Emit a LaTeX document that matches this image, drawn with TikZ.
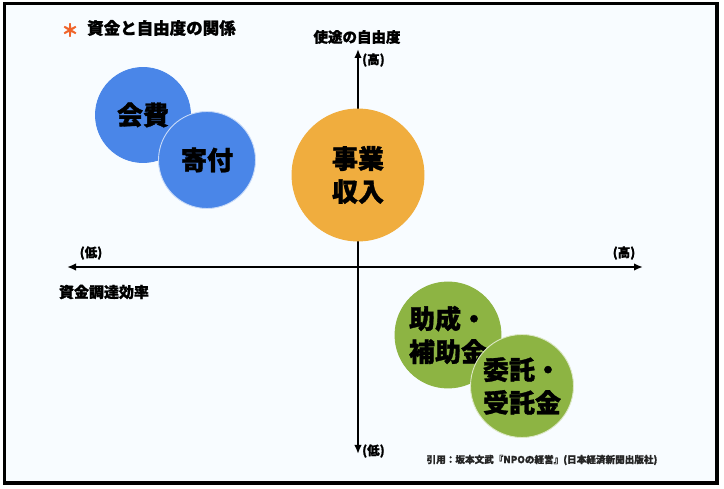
\documentclass[tikz,border=0pt]{standalone}
\usepackage{fontspec}
\setmainfont{Noto Sans CJK JP}[BoldFeatures={FakeBold=1.2}]
\usetikzlibrary{arrows.meta}
\definecolor{bgc}{HTML}{F8FCFF}
\definecolor{cblue}{HTML}{4A86E8}
\definecolor{corange}{HTML}{F0AD3E}
\definecolor{cgreen}{HTML}{8DB443}
\definecolor{cstar}{HTML}{F0642A}
\tikzset{
  bubble/.style={circle, inner sep=0pt, font=\fontsize{26}{33}\selectfont\bfseries, align=center, text=black, line width=0.9pt},
  axis/.style={line width=1.8pt, -{Latex[length=9pt,width=7.5pt]}},
  lbl/.style={inner sep=0pt, font=\fontsize{14.5}{16}\selectfont\bfseries},
  small/.style={inner sep=0pt, font=\fontsize{12.5}{14}\selectfont\bfseries},
}
\begin{document}
\begin{tikzpicture}[x=1pt,y=-1pt]
\useasboundingbox (0,0) rectangle (724,489);
\fill[white] (0,0) rectangle (724,489);
\draw[line width=3.6pt, fill=bgc] (4.5,3.5) rectangle (717,483);
% title
\node[lbl, text=cstar, font=\fontsize{17}{18}\selectfont\bfseries] (star) at (70,30) {＊};
\node[lbl, anchor=west, font=\fontsize{16.5}{18}\selectfont\bfseries] (title) at (87,28) {資金と自由度の関係};
% axes
\coordinate (vtop) at (358,49);
\coordinate (vbot) at (358,454);
\coordinate (hleft) at (67,267);
\coordinate (hright) at (643,267);
\coordinate (vmid) at (358,267);
\draw[axis] (vmid) -- (vtop);
\draw[axis] (vmid) -- (vbot);
\draw[axis] (vmid) -- (hleft);
\draw[axis] (vmid) -- (hright);
\node[lbl] (vlabel) at (357,37) {使途の自由度};
\node[small, anchor=west] (vhigh) at (362,60) {(高)};
\node[small, anchor=west] (vlow) at (362,451) {(低)};
\node[small] (hlow) at (91,253) {(低)};
\node[small] (hhigh) at (624,253) {(高)};
\node[lbl, font=\fontsize{15}{16}\selectfont\bfseries] (hlabel) at (104,292) {資金調達効率};
% bubbles
\node[bubble, fill=cblue, draw=cblue, minimum size=95pt] (kaihi) at (143,115) {会費};
\node[bubble, fill=cblue, draw=white!70!cblue, minimum size=97pt] (kifu) at (207,160) {寄付};
\node[bubble, fill=corange, draw=corange, minimum size=132pt] (jigyo) at (358,175) {事業\\収入};
\node[bubble, fill=cgreen, draw=cgreen, minimum size=106pt] (josei) at (448,335) {助成・\\補助金};
\node[bubble, fill=cgreen, draw=white!70!cgreen, minimum size=103pt] (itaku) at (522,386) {委託・\\受託金};
% citation
\node[inner sep=0pt, font=\fontsize{9.6}{11}\selectfont\bfseries, text=black!85] (cite) at (542,460) {引用：坂本文武『NPOの経営』(日本経済新聞出版社)};
\end{tikzpicture}
\end{document}
